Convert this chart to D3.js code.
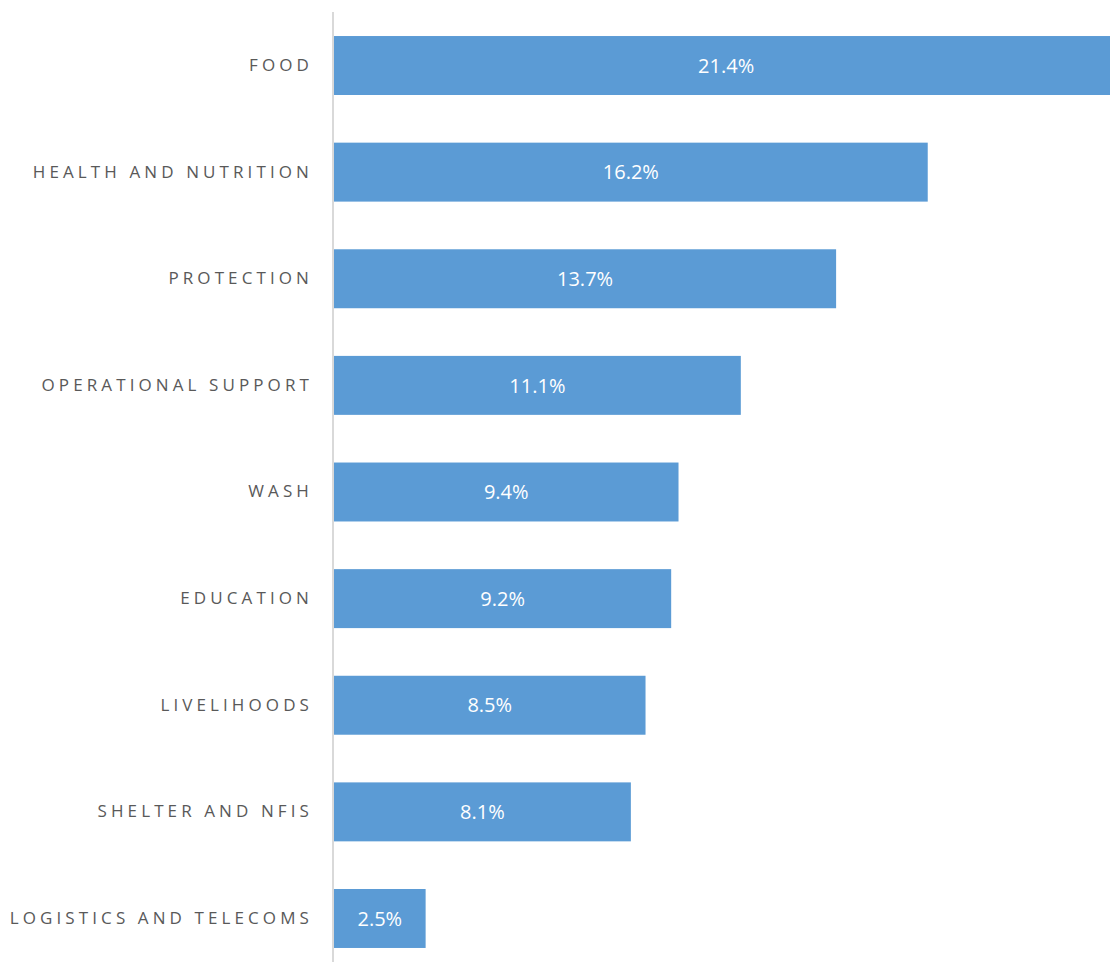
<!DOCTYPE html>
<html>
<head>
<meta charset="utf-8">
<script src="https://cdn.jsdelivr.net/npm/d3@7"></script>
<style>
  html, body { margin: 0; padding: 0; background: #fff; }
  svg { display: block; }
</style>
</head>
<body>
<svg id="chart" width="1110" height="962"></svg>
<script>
// Share of requirements by sector (%)
const categories = [
  "FOOD",
  "HEALTH AND NUTRITION",
  "PROTECTION",
  "OPERATIONAL SUPPORT",
  "WASH",
  "EDUCATION",
  "LIVELIHOODS",
  "SHELTER AND NFIS",
  "LOGISTICS AND TELECOMS"
];
const values = [21.4, 16.2, 13.7, 11.1, 9.4, 9.2, 8.5, 8.1, 2.5];
const valueLabels = ["21.4%", "16.2%", "13.7%", "11.1%", "9.4%", "9.2%", "8.5%", "8.1%", "2.5%"];

const svg = d3.select("#chart");
const x0 = 334;

const x = d3.scaleLinear().domain([0, 10]).range([x0, x0 + 366.5]);
const y = d3.scaleBand()
  .domain(categories)
  .range([12.2, 971.8])
  .paddingInner(0.447)
  .paddingOuter(0.2235);

const data = categories.map((c, i) => ({ c, v: values[i], label: valueLabels[i] }));

svg.append("g").selectAll("rect")
  .data(data)
  .join("rect")
  .attr("x", x(0))
  .attr("y", d => y(d.c))
  .attr("width", d => x(d.v) - x(0))
  .attr("height", y.bandwidth())
  .attr("fill", "#5B9BD5");

// value labels centred in each bar
svg.append("g").selectAll("text")
  .data(data)
  .join("text")
  .attr("x", d => (x(0) + x(d.v)) / 2)
  .attr("y", d => y(d.c) + y.bandwidth() / 2)
  .attr("dy", "0.36em")
  .attr("text-anchor", "middle")
  .attr("fill", "#ffffff")
  .style("font-family", "'Open Sans', sans-serif")
  .style("font-size", "20px")
  .text(d => d.label);

// category axis
const axis = d3.axisLeft(y).tickSize(0).tickPadding(20);
const g = svg.append("g").attr("transform", `translate(${x0 - 1},0)`).call(axis);
g.select(".domain").remove();
g.selectAll("text")
  .attr("fill", "#595959")
  .style("font-family", "'Open Sans', sans-serif")
  .style("font-size", "17px")
  .style("letter-spacing", "4.1px");

svg.append("line")
  .attr("x1", x0 - 1).attr("x2", x0 - 1)
  .attr("y1", 12).attr("y2", 962)
  .attr("stroke", "#d9d9d9")
  .attr("stroke-width", 2);
</script>
</body>
</html>
